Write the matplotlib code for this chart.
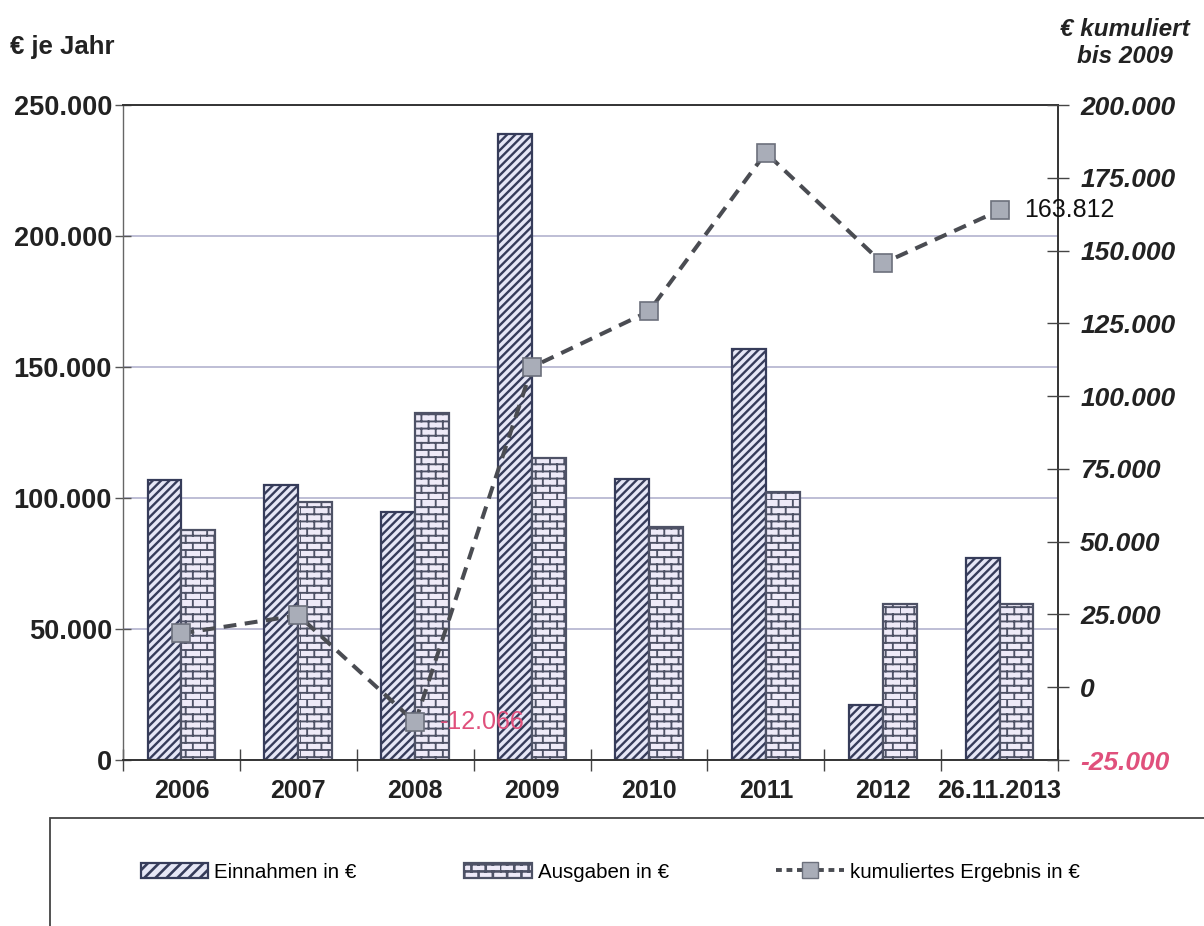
import warnings

import matplotlib
matplotlib.use("Agg")
import matplotlib.hatch as mhatch
from matplotlib import pyplot as plt
from matplotlib.lines import Line2D
from matplotlib.patches import Patch, Rectangle
from matplotlib.path import Path
from matplotlib.ticker import FixedLocator, FuncFormatter

warnings.filterwarnings("ignore", category=matplotlib.MatplotlibDeprecationWarning)

# Values
years = ['2006', '2007', '2008', '2009', '2010', '2011', '2012', '26.11.2013']
einnahmen = [107000, 105000, 94700, 239000, 107300, 156900, 21000, 77200]
ausgaben = [87800, 98600, 132400, 115300, 88900, 102300, 59500, 59500]
kumuliert = [18500, 24700, -12066, 110000, 129100, 183600, 145600, 163812]
left_ticks = [0, 50000, 100000, 150000, 200000, 250000]
right_ticks = [-25000, 0, 25000, 50000, 75000, 100000, 125000, 150000, 175000, 200000]
labelled = {2: '#e0507c', 7: '#111111'}  # points with a value label -> label colour


class BrickHatch(mhatch.HatchPatternBase):
    """Brick wall hatch, selected with the letter 'b'."""

    def __init__(self, hatch, density):
        self.rows = hatch.count('b') * 14
        self.cols = 7
        self.num_vertices = self.rows * (self.cols + 1) * 2

    def set_vertices_and_codes(self, vertices, codes):
        h = 1.0 / self.rows
        w = 1.0 / self.cols
        i = 0
        for r in range(self.rows):
            y = r * h
            vertices[i] = (0.0, y)
            vertices[i + 1] = (1.0, y)
            i += 2
            shift = w / 2 if r % 2 else 0.0
            for c in range(self.cols):
                xv = c * w + shift
                vertices[i] = (xv, y)
                vertices[i + 1] = (xv, y + h)
                i += 2
        codes[0::2] = Path.MOVETO
        codes[1::2] = Path.LINETO


mhatch._hatch_types.append(BrickHatch)


def de_fmt(v, _pos=None):
    return f"{v:,.0f}".replace(',', '.')


def hatch_width(bars, lw):
    # per-patch hatch width where matplotlib supports it
    for b in bars:
        if hasattr(b, 'set_hatch_linewidth'):
            b.set_hatch_linewidth(lw)


plt.rcParams['font.family'] = ['Liberation Sans', 'DejaVu Sans']
plt.rcParams['hatch.linewidth'] = 1.6

fig = plt.figure(figsize=(12.04, 9.26), dpi=100)
ax = fig.add_axes([123 / 1204, 1 - 760 / 926, 935 / 1204, 655 / 926])
ax2 = ax.twinx()

x = list(range(len(years)))
bw = 0.29
stripe_col = '#363c5a'
brick_col = '#4e5266'
stripe_face = '#e6e7f6'
brick_face = '#eeeaf8'

b1 = ax.bar([i - bw / 2 for i in x], einnahmen, width=bw, color=stripe_face,
            edgecolor=stripe_col, linewidth=1.6, hatch='////', zorder=2)
b2 = ax.bar([i + bw / 2 for i in x], ausgaben, width=bw, color=brick_face,
            edgecolor=brick_col, linewidth=1.6, hatch='b', zorder=2)
hatch_width(b1, 1.7)
hatch_width(b2, 1.35)

ax.set_xlim(-0.5, 7.5)
ax.set_ylim(0, 250000)
ax.set_yticks(left_ticks)
ax.yaxis.set_major_formatter(FuncFormatter(de_fmt))
ax.set_xticks(x)
ax.set_xticklabels(years)
ax.xaxis.set_minor_locator(FixedLocator([i + 0.5 for i in range(-1, len(years))]))
ax.tick_params(axis='x', which='major', length=0, pad=14, labelsize=18)
ax.tick_params(axis='x', which='minor', direction='inout', length=16, width=1, color='#444444')
ax.tick_params(axis='y', direction='inout', length=12, width=1, color='#555555',
               labelsize=19.5, pad=2)
for lab in ax.get_xticklabels() + ax.get_yticklabels():
    lab.set_fontweight('bold')
    lab.set_color('#222222')

ax.grid(axis='y', color='#b9b9d2', linewidth=1.3, zorder=0)
ax.set_axisbelow(True)
for side, col, lw in [('top', '#333333', 1.4), ('bottom', '#333333', 1.4),
                      ('left', '#666666', 1.0), ('right', '#333333', 1.4)]:
    ax.spines[side].set_color(col)
    ax.spines[side].set_linewidth(lw)

# cumulative result on the right axis
ax2.plot(x, kumuliert, color='#4a4c52', linewidth=2.9, linestyle=(0, (3.2, 2.1)),
         marker='s', markersize=13, markerfacecolor='#a9adb8',
         markeredgecolor='#6c707c', markeredgewidth=1.2, zorder=5)
for i, col in labelled.items():
    ax2.annotate(de_fmt(kumuliert[i]), xy=(i, kumuliert[i]), xytext=(18, 0),
                 textcoords='offset points', va='center', ha='left',
                 fontsize=18, color=col, zorder=6)

ax2.set_ylim(-25000, 200000)
ax2.set_yticks(right_ticks)
ax2.yaxis.set_major_formatter(FuncFormatter(de_fmt))
ax2.tick_params(axis='y', direction='inout', length=16, width=1, color='#444444',
                labelsize=19, pad=8)
for lab in ax2.get_yticklabels():
    lab.set_fontweight('bold')
    lab.set_fontstyle('italic')
    lab.set_color('#222222')
ax2.get_yticklabels()[0].set_color('#e0507c')
for side in ax2.spines:
    ax2.spines[side].set_visible(False)

# axis titles
fig.text(10 / 1204, 1 - 47 / 926, '€ je Jahr', fontsize=18.5, fontweight='bold',
         va='center', ha='left', color='#222222')
fig.text(1125 / 1204, 1 - 43 / 926, '€ kumuliert\nbis 2009', fontsize=17.5,
         fontweight='bold', fontstyle='italic', va='center', ha='center',
         linespacing=1.2, color='#222222')

# legend box (runs off the right and bottom edge in the scan)
fig.add_artist(Rectangle((50 / 1204, -0.2), 1.3, 0.2 + (926 - 818) / 926,
                         transform=fig.transFigure, fill=False,
                         edgecolor='#444444', linewidth=1.3))
handles = [
    Patch(facecolor=stripe_face, edgecolor=stripe_col, linewidth=1.6, hatch='///'),
    Patch(facecolor=brick_face, edgecolor=brick_col, linewidth=1.6, hatch='b'),
    Line2D([], [], color='#4a4c52', linewidth=2.8, linestyle=(0, (1.5, 1.2)),
           marker='s', markersize=11, markerfacecolor='#a9adb8',
           markeredgecolor='#6c707c'),
]
leg = fig.legend(handles, ['Einnahmen in €', 'Ausgaben in €', 'kumuliertes Ergebnis in €'],
                 loc='center left', bbox_to_anchor=(122 / 1204, 1 - 872 / 926), ncol=3,
                 frameon=False, fontsize=14.8, handlelength=3.3, handleheight=0.7,
                 handletextpad=0.3, columnspacing=5.2, numpoints=1)
hatch_width(leg.get_patches(), 1.9)

fig.savefig('out.png', dpi=100)
plt.close(fig)
